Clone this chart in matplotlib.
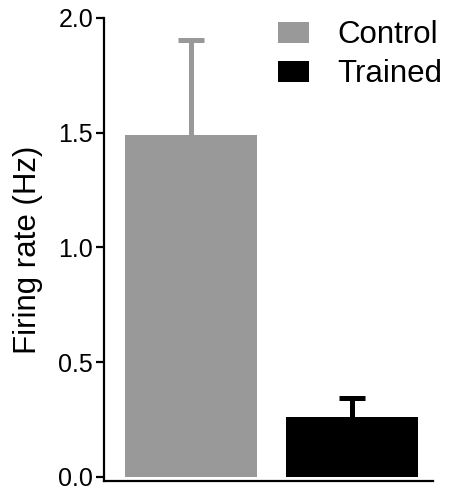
import matplotlib
matplotlib.use("Agg")
import matplotlib.pyplot as plt
from matplotlib.patches import Patch

# data
groups = ["Control", "Trained"]
means = [1.49, 0.263]
errors = [0.414, 0.083]
colors = ["#999999", "#000000"]
yticks = [0.0, 0.5, 1.0, 1.5, 2.0]

plt.rcParams["font.family"] = ["Liberation Sans", "DejaVu Sans"]

fig = plt.figure(figsize=(4.49, 4.93), dpi=100)
ax = fig.add_axes([0.232, 0.0243, 0.732, 0.9392])

x = range(len(groups))
for i in x:
    ax.bar(i, means[i], width=0.82, color=colors[i], edgecolor="none", zorder=2)
    eb = ax.errorbar(i, means[i], yerr=[[0], [errors[i]]], fmt="none",
                     ecolor=colors[i], elinewidth=3.6, capsize=9.5, capthick=3.6,
                     zorder=1)
    # only the upper cap is drawn in the reference
    eb[1][0].set_visible(False)

ax.set_xlim(-0.54, 1.503)
ax.set_ylim(-0.018, 2.0)
ax.set_yticks(yticks)
ax.set_yticklabels([f"{t:.1f}" for t in yticks], fontsize=18)
ax.set_xticks([])
ax.set_ylabel("Firing rate (Hz)", fontsize=22.5, labelpad=11)

for s in ["top", "right"]:
    ax.spines[s].set_visible(False)
ax.spines["left"].set_linewidth(1.6)
ax.spines["bottom"].set_linewidth(1.6)
ax.tick_params(axis="y", width=1.6, length=6, pad=2)

handles = [Patch(facecolor=c, edgecolor="none") for c in colors]
ax.legend(handles, groups, loc="upper right", frameon=False, fontsize=22.5,
          handlelength=1.0, handleheight=0.66, handletextpad=0.9,
          labelspacing=0.3, borderpad=0, borderaxespad=0,
          bbox_to_anchor=(442 / 449, 1 - 20 / 493), bbox_transform=fig.transFigure)

fig.savefig("out.png", dpi=100)
